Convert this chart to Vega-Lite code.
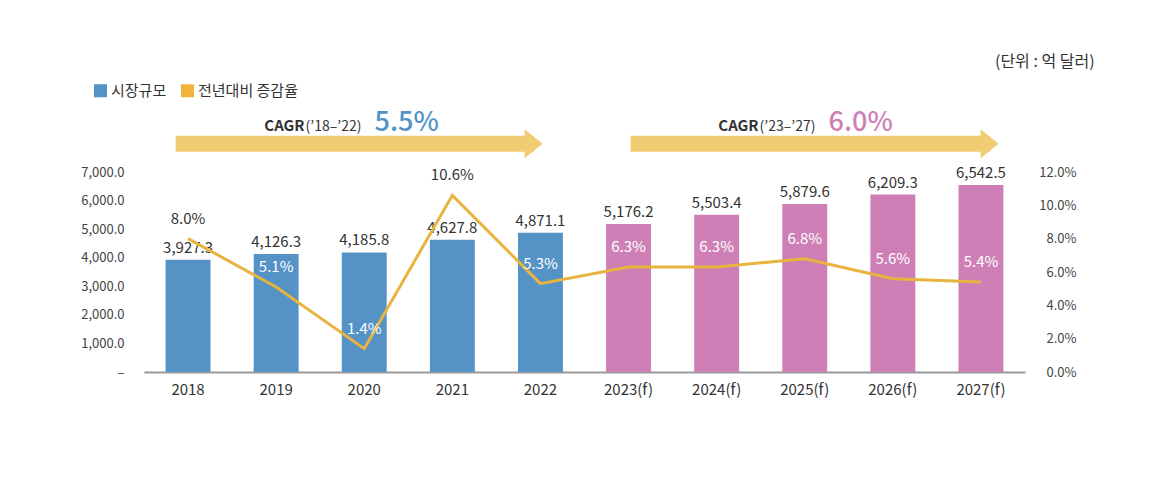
{
  "$schema": "https://vega.github.io/schema/vega-lite/v6.json",
  "width": 881,
  "height": 200,
  "autosize": {"type": "none"},
  "padding": {"left": 144, "top": 172, "right": 147, "bottom": 107},
  "background": "white",
  "config": {"view": {"stroke": null}, "font": "Noto Sans CJK KR", "axis": {"labelFont": "Noto Sans CJK KR", "labelOverlap": false}, "legend": {"labelFont": "Noto Sans CJK KR"}},
  "datasets": {
    "main": [
      {"year": "2018", "value": 3927.3, "rate": 0.080, "series": "시장규모"},
      {"year": "2019", "value": 4126.3, "rate": 0.051, "series": "시장규모"},
      {"year": "2020", "value": 4185.8, "rate": 0.014, "series": "시장규모"},
      {"year": "2021", "value": 4627.8, "rate": 0.106, "series": "시장규모"},
      {"year": "2022", "value": 4871.1, "rate": 0.053, "series": "시장규모"},
      {"year": "2023(f)", "value": 5176.2, "rate": 0.063, "series": "전망"},
      {"year": "2024(f)", "value": 5503.4, "rate": 0.063, "series": "전망"},
      {"year": "2025(f)", "value": 5879.6, "rate": 0.068, "series": "전망"},
      {"year": "2026(f)", "value": 6209.3, "rate": 0.056, "series": "전망"},
      {"year": "2027(f)", "value": 6542.5, "rate": 0.054, "series": "전망"}
    ],
    "cagr": [
      {"from": 0.359, "to": 4.422, "textAt": 1.823, "period": "(’18–’22)", "cagr": "5.5%", "series": "시장규모"},
      {"from": 5.523, "to": 9.598, "textAt": 6.976, "period": "(’23–’27)", "cagr": "6.0%", "series": "전망"}
    ]
  },
  "layer": [
    {
      "data": {"name": "main"},
      "encoding": {
        "x": {
          "field": "year", "type": "ordinal", "sort": null,
          "scale": {"paddingInner": 0.49, "paddingOuter": 0.245},
          "axis": {"title": null, "labelAngle": 0, "ticks": false, "domain": true, "domainColor": "#999999", "domainWidth": 2, "labelPadding": 10, "labelFontSize": 15, "labelColor": "#333333", "labelOverlap": false}
        }
      },
      "layer": [
        {
          "encoding": {
            "y": {"field": "value", "type": "quantitative", "scale": {"domain": [0, 7000], "nice": false},
              "axis": {"title": null, "values": [0, 1000, 2000, 3000, 4000, 5000, 6000, 7000], "labelExpr": "datum.value == 0 ? '–' : format(datum.value, ',.1f')", "domain": false, "ticks": false, "grid": false, "labelPadding": 20, "labelFontSize": 13, "labelColor": "#444444", "labelOverlap": false, "labelFlush": false, "labelBound": false}}
          },
          "layer": [
            {
              "mark": {"type": "bar"},
              "encoding": {
                "color": {"field": "series", "type": "nominal",
                  "scale": {"domain": ["시장규모", "전년대비 증감율", "전망"], "range": ["#5593C7", "#EEB43C", "#CD7FB6"]},
                  "legend": {"orient": "none", "legendX": -51, "legendY": -89, "direction": "horizontal", "values": ["시장규모", "전년대비 증감율"], "title": null, "symbolType": "square", "symbolSize": 169, "symbolStrokeWidth": 0, "labelFontSize": 15, "labelColor": "#333333", "labelOffset": 3, "columnPadding": 13, "padding": 0}}
              }
            },
            {
              "mark": {"type": "text", "baseline": "alphabetic", "dy": -7, "fontSize": 15, "color": "#333333"},
              "encoding": {
                "text": {"field": "value", "type": "quantitative", "format": ",.1f"}
              }
            }
          ]
        },
        {
          "encoding": {
            "y": {"field": "rate", "type": "quantitative", "scale": {"domain": [0, 0.12], "nice": false},
              "axis": {"orient": "right", "title": null, "values": [0, 0.02, 0.04, 0.06, 0.08, 0.1, 0.12], "format": ".1%", "domain": false, "ticks": false, "grid": false, "labelAlign": "right", "labelPadding": 51, "labelFontSize": 13, "labelColor": "#444444", "labelOverlap": false, "labelFlush": false, "labelBound": false}}
          },
          "layer": [
            {
              "mark": {"type": "line", "color": "#E8B33E", "strokeWidth": 3}
            },
            {
              "mark": {"type": "text", "baseline": "middle", "dy": -20, "fontSize": 15},
              "encoding": {
                "text": {"field": "rate", "type": "quantitative", "format": ".1%"},
                "color": {"condition": {"test": "datum.rate >= 0.08", "value": "#333333"}, "value": "#ffffff"}
              }
            }
          ]
        }
      ],
      "resolve": {"scale": {"y": "independent"}}
    },
    {
      "data": {"name": "cagr"},
      "layer": [
        {
          "mark": {"type": "rule", "color": "#F0CD73", "strokeWidth": 16, "strokeCap": "butt"},
          "encoding": {
            "x": {"field": "from", "type": "quantitative", "scale": {"domain": [0, 10], "nice": false, "zero": false}, "axis": null},
            "x2": {"field": "to"},
            "y": {"datum": 7990, "type": "quantitative", "scale": {"domain": [0, 7000], "nice": false}, "axis": null}
          }
        },
        {
          "mark": {"type": "point", "shape": "M-0.62,-1L0.62,0L-0.62,1Z", "filled": true, "size": 841, "color": "#F0CD73", "opacity": 1, "strokeWidth": 0},
          "encoding": {
            "x": {"field": "to", "type": "quantitative"},
            "y": {"datum": 7990, "type": "quantitative"}
          }
        },
        {
          "mark": {"type": "text", "align": "right", "baseline": "alphabetic", "fontSize": 15, "fontWeight": "bold", "color": "#333333", "letterSpacing": -0.8},
          "encoding": {
            "x": {"field": "textAt", "type": "quantitative"},
            "y": {"datum": 8435, "type": "quantitative"},
            "text": {"value": "CAGR"}
          }
        },
        {
          "mark": {"type": "text", "align": "left", "baseline": "alphabetic", "fontSize": 14, "color": "#333333", "dx": 1},
          "encoding": {
            "x": {"field": "textAt", "type": "quantitative"},
            "y": {"datum": 8435, "type": "quantitative"},
            "text": {"field": "period", "type": "nominal"}
          }
        },
        {
          "mark": {"type": "text", "align": "left", "baseline": "alphabetic", "fontSize": 27, "fontWeight": 500, "dx": 70},
          "encoding": {
            "x": {"field": "textAt", "type": "quantitative"},
            "y": {"datum": 8435, "type": "quantitative"},
            "text": {"field": "cagr", "type": "nominal"},
            "color": {"field": "series", "type": "nominal"}
          }
        },
        {
          "data": {"values": [{"unit": "(단위 : 억 달러)"}]},
          "mark": {"type": "text", "align": "right", "baseline": "middle", "fontSize": 16, "color": "#333333"},
          "encoding": {
            "x": {"datum": 10.79, "type": "quantitative"},
            "y": {"datum": 10850, "type": "quantitative"},
            "text": {"field": "unit", "type": "nominal"}
          }
        }
      ]
    }
  ],
  "resolve": {"scale": {"x": "independent", "y": "independent"}}
}
